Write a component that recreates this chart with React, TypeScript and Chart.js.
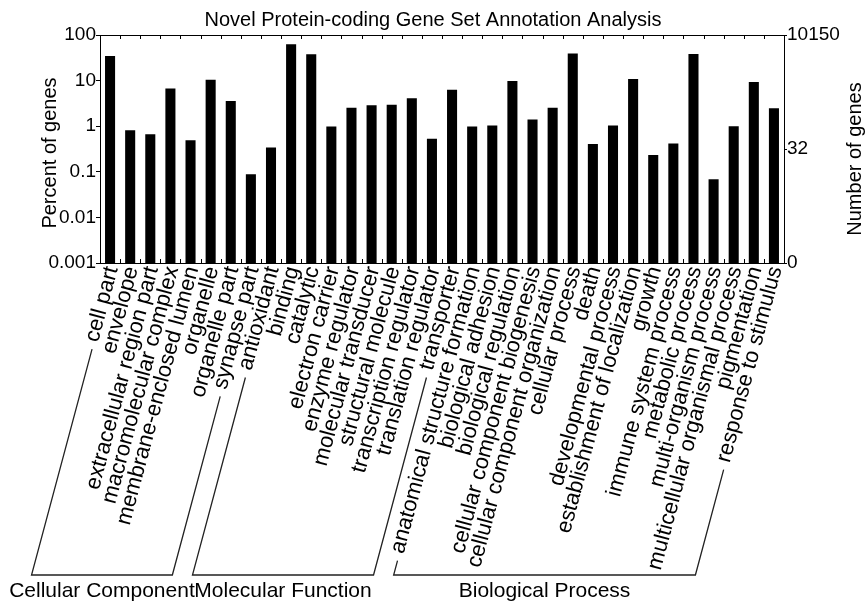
import React, { useEffect, useRef } from 'react';
import { Chart, registerables } from 'chart.js';

Chart.register(...registerables);

const categories = [
  'cell part', 'envelope', 'extracellular region part', 'macromolecular complex',
  'membrane-enclosed lumen', 'organelle', 'organelle part', 'synapse part',
  'antioxidant', 'binding', 'catalytic', 'electron carrier', 'enzyme regulator',
  'molecular transducer', 'structural molecule', 'transcription regulator',
  'translation regulator', 'transporter',
  'anatomical structure formation', 'biological adhesion', 'biological regulation',
  'cellular component biogenesis', 'cellular component organization', 'cellular process',
  'death', 'developmental process', 'establishment of localization', 'growth',
  'immune system process', 'metabolic process', 'multi-organism process',
  'multicellular organismal process', 'pigmentation', 'response to stimulus',
];

const percentValues = [
  34.8, 0.82, 0.67, 6.7, 0.49, 10.4, 3.57, 0.088,
  0.343, 62.6, 37.8, 0.98, 2.55, 2.87, 2.97, 4.08, 0.53, 6.3,
  0.98, 1.03, 9.75, 1.4, 2.55, 39.2, 0.405, 1.03, 10.8, 0.233, 0.419, 38.5, 0.0686, 1.0, 9.27, 2.47,
];

const groupNames = ['Cellular Component', 'Molecular Function', 'Biological Process'];
const groupSizes = [8, 10, 16];

const leftTicks = [0.001, 0.01, 0.1, 1, 10, 100];
const leftTickLabels = ['0.001', '0.01', '0.1', '1', '10', '100'];

const totalGenes = 10150;
const rightTickCounts = [0, 32, 10150];
const rightTickLabels = ['0', '32', '10150'];

const chartTitle = 'Novel Protein-coding Gene Set Annotation Analysis';
const leftAxisTitle = 'Percent of genes';
const rightAxisTitle = 'Number of genes';

const FONT = '"Liberation Sans", Arial, Helvetica, sans-serif';
const ANGLE = (75 * Math.PI) / 180;
const BRACKET_Y = 575;
const GAP = 8;

const rightMin = (totalGenes * leftTicks[0]) / 100;
const rightMax = (totalGenes * leftTicks[leftTicks.length - 1]) / 100;
const rightTickValues = rightTickCounts.map((c) => (c === 0 ? rightMin : c));

const decorPlugin = {
  id: 'decor',
  afterDraw(chart: any) {
    const ctx = chart.ctx as CanvasRenderingContext2D;
    const { left, right, top, bottom } = chart.chartArea;
    const xs = chart.scales.x;
    ctx.save();
    ctx.strokeStyle = '#000';
    ctx.lineWidth = 1;
    ctx.beginPath();
    ctx.moveTo(left, Math.round(top) + 0.5);
    ctx.lineTo(right, Math.round(top) + 0.5);
    ctx.moveTo(left, Math.round(bottom) + 0.5);
    ctx.lineTo(right, Math.round(bottom) + 0.5);
    for (let i = 1; i < categories.length; i++) {
      const xb = Math.round((xs.getPixelForValue(i - 1) + xs.getPixelForValue(i)) / 2) + 0.5;
      ctx.moveTo(xb, top);
      ctx.lineTo(xb, top + 4);
      ctx.moveTo(xb, bottom);
      ctx.lineTo(xb, bottom - 4);
    }
    ctx.stroke();

    // category labels
    ctx.fillStyle = '#000';
    ctx.font = `22px ${FONT}`;
    ctx.textAlign = 'right';
    ctx.textBaseline = 'middle';
    const anchor = (i: number) => ({ x: xs.getPixelForValue(i) + 2, y: bottom + 4 });
    categories.forEach((c, i) => {
      const a = anchor(i);
      ctx.save();
      ctx.translate(a.x, a.y);
      ctx.rotate(-ANGLE);
      ctx.fillText(c, 0, 0);
      ctx.restore();
    });

    // brackets
    const endOf = (i: number) => {
      const a = anchor(i);
      const L = ctx.measureText(categories[i]).width + GAP;
      return { x: a.x - L * Math.cos(ANGLE) + 2, y: a.y + L * Math.sin(ANGLE) };
    };
    const downTo = (p: { x: number; y: number }) => ({
      x: p.x - (BRACKET_Y - p.y) / Math.tan(ANGLE),
      y: BRACKET_Y,
    });
    ctx.strokeStyle = '#222';
    ctx.lineWidth = 1.3;
    let start = 0;
    const centers: number[] = [];
    groupSizes.forEach((size) => {
      const first = start;
      const last = start + size - 1;
      const p1 = endOf(first);
      const p2 = downTo(p1);
      const p4 = endOf(last);
      const p3 = downTo(p4);
      ctx.beginPath();
      ctx.moveTo(p1.x, p1.y);
      ctx.lineTo(p2.x, p2.y);
      ctx.lineTo(p3.x, p3.y);
      ctx.lineTo(p4.x, p4.y);
      ctx.stroke();
      centers.push((p2.x + p3.x) / 2);
      start += size;
    });

    ctx.font = `21px ${FONT}`;
    ctx.textAlign = 'center';
    ctx.textBaseline = 'alphabetic';
    groupNames.forEach((g, i) => ctx.fillText(g, centers[i], 597));

    // axis titles
    ctx.font = `20px ${FONT}`;
    ctx.save();
    ctx.translate(50, 153);
    ctx.rotate(-Math.PI / 2);
    ctx.textAlign = 'center';
    ctx.textBaseline = 'middle';
    ctx.fillText(leftAxisTitle, 0, 0);
    ctx.restore();

    ctx.save();
    ctx.translate(861, 159);
    ctx.rotate(-Math.PI / 2);
    ctx.textAlign = 'center';
    ctx.textBaseline = 'alphabetic';
    ctx.fillText(rightAxisTitle, 0, 0);
    ctx.restore();

    ctx.restore();
  },
};

export default function App() {
  const canvasRef = useRef<HTMLCanvasElement | null>(null);

  useEffect(() => {
    if (!canvasRef.current) return;
    const chart = new Chart(canvasRef.current, {
      type: 'bar',
      data: {
        labels: categories,
        datasets: [
          {
            data: percentValues,
            backgroundColor: '#000',
            borderWidth: 0,
            barPercentage: 0.5,
            categoryPercentage: 1,
            yAxisID: 'y',
          },
        ],
      },
      options: {
        responsive: false,
        animation: false,
        layout: { padding: { left: 0, right: 0, top: 0, bottom: 339 } },
        plugins: {
          legend: { display: false },
          tooltip: { enabled: false },
          title: {
            display: true,
            text: chartTitle,
            color: '#000',
            font: { family: FONT, size: 20, weight: 'normal' },
            padding: { top: 8, bottom: 3 },
          },
        },
        scales: {
          x: { type: 'category', display: false, offset: true },
          y: {
            type: 'logarithmic',
            position: 'left',
            min: leftTicks[0],
            max: leftTicks[leftTicks.length - 1],
            afterBuildTicks: (s: any) => {
              s.ticks = leftTicks.map((v) => ({ value: v }));
            },
            afterFit: (s: any) => {
              s.width = 100;
            },
            ticks: {
              autoSkip: false,
              padding: 0,
              color: '#000',
              font: { family: FONT, size: 19 },
              callback: (v: any) => {
                const i = leftTicks.indexOf(Number(v));
                return i >= 0 ? leftTickLabels[i] : '';
              },
            },
            grid: { drawOnChartArea: false, tickLength: 4, color: '#000', lineWidth: 1 },
            border: { display: true, color: '#000', width: 1 },
          },
          y2: {
            type: 'logarithmic',
            position: 'right',
            min: rightMin,
            max: rightMax,
            afterBuildTicks: (s: any) => {
              s.ticks = rightTickValues.map((v) => ({ value: v }));
            },
            afterFit: (s: any) => {
              s.width = 82;
            },
            ticks: {
              autoSkip: false,
              padding: 0,
              color: '#000',
              font: { family: FONT, size: 19 },
              callback: (v: any) => {
                const i = rightTickValues.indexOf(Number(v));
                return i >= 0 ? rightTickLabels[i] : '';
              },
            },
            grid: { drawOnChartArea: false, tickLength: 3, color: '#000', lineWidth: 1 },
            border: { display: true, color: '#000', width: 1 },
          },
        },
      } as any,
      plugins: [decorPlugin],
    });
    return () => chart.destroy();
  }, []);

  return (
    <div style={{ position: 'fixed', left: 0, top: 0, width: 866, height: 602, background: '#fff' }}>
      <canvas ref={canvasRef} width={866} height={602} />
    </div>
  );
}
